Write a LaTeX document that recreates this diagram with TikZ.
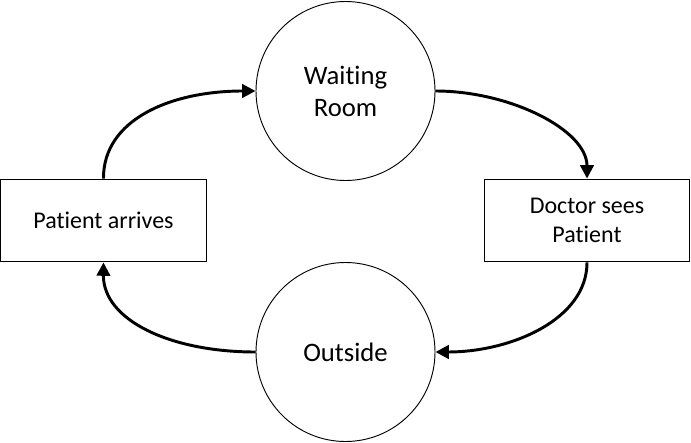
\documentclass[tikz,border=0pt]{standalone}
\usepackage{fontspec}
\setmainfont{Carlito}[Ligatures={NoCommon,NoRare,NoContextual}]
\usetikzlibrary{arrows.meta}
\begin{document}
\begin{tikzpicture}[x=0.75pt,y=-0.75pt,
  stateC/.style={circle,draw=black,line width=0.7pt,minimum size=134.25pt,inner sep=0pt,align=center,font=\fontsize{20}{24}\selectfont},
  stateB/.style={rectangle,draw=black,line width=0.9pt,minimum width=154pt,minimum height=62pt,inner sep=0pt,align=center,font=\fontsize{18}{22}\selectfont},
  flow/.style={line width=2.2pt,-{Triangle[length=10pt,width=10pt]}}]
\useasboundingbox (0,0) rectangle (691,442);
\node[stateC] (wr) at (345.5,91) {Waiting\\Room};
\node[stateC] (out) at (345.5,352) {Outside};
\node[stateB] (pa) at (103.5,220.5) {Patient arrives};
\node[stateB] (doc) at (587,220.5) {Doctor sees\\Patient};
\draw[flow] (pa.north) .. controls (103,120) and (170,91) .. (wr.west);
\draw[flow] (wr.east) .. controls (510,91) and (587,130) .. (doc.north);
\draw[flow] (doc.south) .. controls (587,320) and (510,352) .. (out.east);
\draw[flow] (out.west) .. controls (170,352) and (103,320) .. (pa.south);
\end{tikzpicture}
\end{document}
